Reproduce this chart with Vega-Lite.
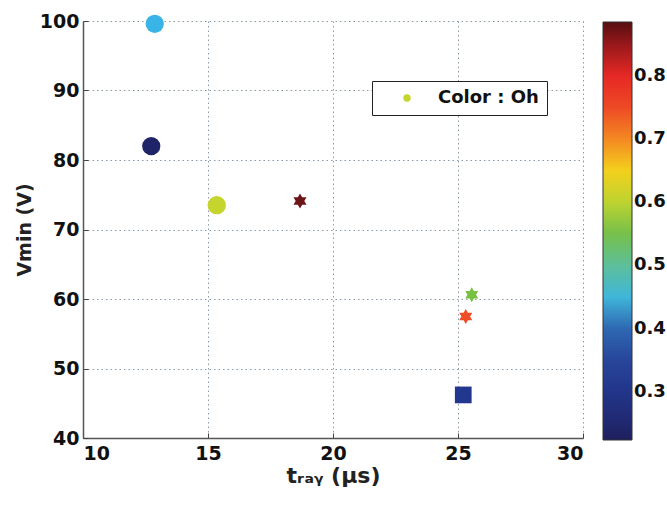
{
  "$schema": "https://vega.github.io/schema/vega-lite/v6.json",
  "width": 500,
  "height": 417,
  "autosize": "none",
  "padding": {"left": 83, "top": 21, "right": 84, "bottom": 71},
  "background": "white",
  "config": {
    "view": {"stroke": null},
    "font": "DejaVu Sans",
    "axis": {
      "grid": true,
      "gridColor": "#8a9cab",
      "gridDash": [1.5, 3],
      "gridWidth": 1,
      "domainColor": "#555555",
      "domainWidth": 1.5,
      "tickColor": "#444444",
      "tickSize": -5,
      "labelFont": "DejaVu Sans",
      "labelFontSize": 19,
      "labelFontWeight": "bold",
      "labelColor": "#111111",
      "titleFont": "DejaVu Sans",
      "titleFontWeight": "bold",
      "titleColor": "#222222"
    }
  },
  "data": {
    "values": [
      {"t": 12.87, "v": 99.6, "oh": 0.44, "marker": "circle"},
      {"t": 12.73, "v": 82.0, "oh": 0.235, "marker": "circle"},
      {"t": 15.35, "v": 73.5, "oh": 0.605, "marker": "circle"},
      {"t": 18.68, "v": 74.1, "oh": 0.87, "marker": "star"},
      {"t": 25.55, "v": 60.6, "oh": 0.555, "marker": "star"},
      {"t": 25.31, "v": 57.5, "oh": 0.745, "marker": "star"},
      {"t": 25.21, "v": 46.2, "oh": 0.31, "marker": "square"}
    ]
  },
  "encoding": {
    "x": {
      "field": "t", "type": "quantitative",
      "scale": {"domain": [10, 30], "nice": false, "zero": false},
      "axis": {"values": [10, 15, 20, 25, 30], "labelPadding": 11, "title": "tᵣₐᵧ (µs)", "titleFontSize": 22, "titlePadding": 2}
    },
    "y": {
      "field": "v", "type": "quantitative",
      "scale": {"domain": [40, 100], "nice": false, "zero": false},
      "axis": {"values": [40, 50, 60, 70, 80, 90, 100], "labelPadding": 9, "title": "Vmin (V)", "titleFontSize": 19, "titlePadding": 5}
    },
    "color": {
      "field": "oh", "type": "quantitative",
      "scale": {
        "domain": [0.2235, 0.235, 0.31, 0.39, 0.44, 0.5, 0.555, 0.605, 0.635, 0.68, 0.745, 0.815, 0.87, 0.8856],
        "range": ["#1e1f5c", "#1f2468", "#22388f", "#2b55a6", "#3ab4e6", "#5dbf9a", "#78c043", "#c5d52e", "#f2e61b", "#f6a420", "#ef4d25", "#e31e25", "#6d1416", "#560e10"],
        "interpolate": "rgb"
      },
      "legend": {
        "orient": "none", "legendX": 520, "legendY": 1,
        "direction": "vertical", "title": null,
        "gradientLength": 418, "gradientThickness": 29,
        "gradientStrokeColor": "#333333", "gradientStrokeWidth": 1,
        "values": [0.3, 0.4, 0.5, 0.6, 0.7, 0.8],
        "labelFont": "DejaVu Sans", "labelFontSize": 18, "labelFontWeight": "bold",
        "labelColor": "#111111", "labelOffset": 2, "labelOverlap": false
      }
    }
  },
  "layer": [
    {
      "transform": [{"filter": "datum.marker === 'circle'"}],
      "mark": {"type": "point", "filled": true, "shape": "circle", "size": 335, "opacity": 1},
      "encoding": {
        "opacity": {
          "datum": "Color : Oh", "type": "ordinal",
          "scale": {"range": [1]},
          "legend": {
            "orient": "none", "legendX": 289, "legendY": 60,
            "title": null, "padding": 8,
            "strokeColor": "#222222", "fillColor": "white",
            "symbolType": "circle", "symbolSize": 55,
            "symbolFillColor": "#c5d52e", "symbolStrokeColor": "#c5d52e", "symbolStrokeWidth": 0,
            "symbolOffset": 18, "labelOffset": 22,
            "labelFont": "DejaVu Sans", "labelFontSize": 18, "labelFontWeight": "bold", "labelColor": "#111111",
            "encode": {"symbols": {"update": {"fill": {"value": "#c5d52e"}, "opacity": {"value": 1}}}}
          }
        }
      }
    },
    {
      "transform": [{"filter": "datum.marker === 'star'"}],
      "mark": {"type": "point", "filled": true, "opacity": 1, "size": 225,
        "shape": "M0,-1L0.289,-0.5L0.866,-0.5L0.577,0L0.866,0.5L0.289,0.5L0,1L-0.289,0.5L-0.866,0.5L-0.577,0L-0.866,-0.5L-0.289,-0.5Z"}
    },
    {
      "transform": [{"filter": "datum.marker === 'square'"}],
      "mark": {"type": "point", "filled": true, "shape": "square", "size": 280, "opacity": 1}
    }
  ]
}
